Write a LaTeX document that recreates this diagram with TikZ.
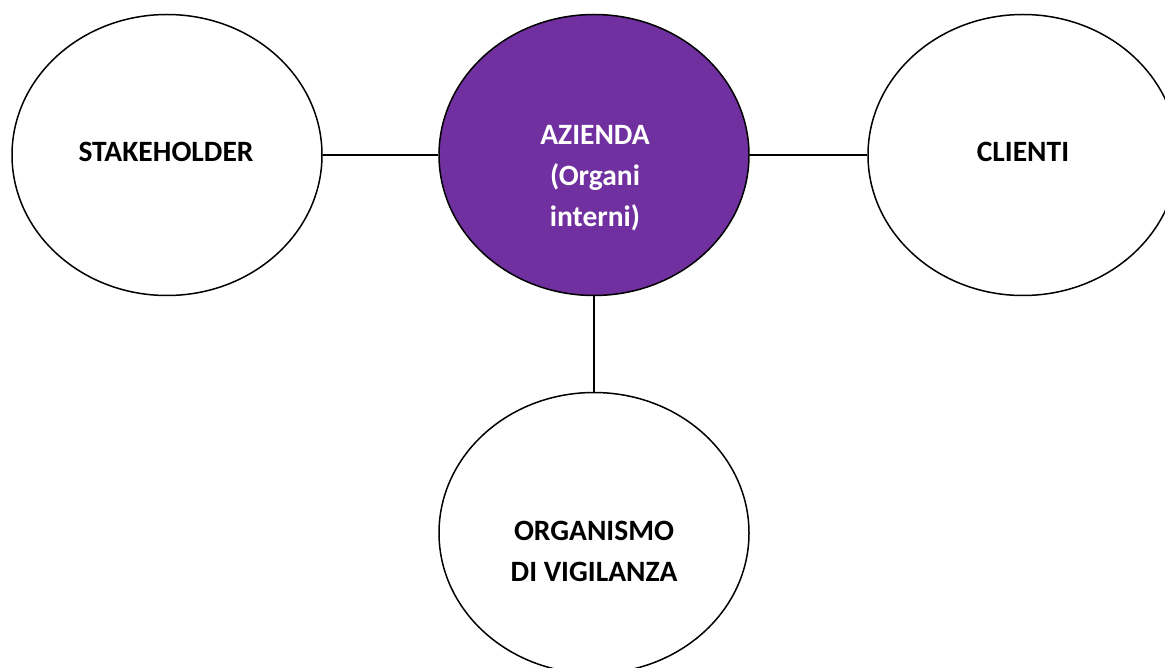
\documentclass[tikz,border=0pt]{standalone}
\usepackage{fontspec}
\setmainfont{Carlito}
\usetikzlibrary{shapes.geometric}
\definecolor{viola}{HTML}{7030A0}
\tikzset{
  ente/.style={draw=black,line width=1.5pt,ellipse,minimum width=310pt,minimum height=281pt,inner sep=0pt},
  testo/.style={font=\fontsize{29.5}{41}\selectfont\bfseries,align=center,inner sep=0pt},
  legame/.style={draw=black,line width=1.5pt}
}
\begin{document}
\begin{tikzpicture}[x=1pt,y=-1pt]
\useasboundingbox (0,0) rectangle(1165,668);
\node[ente,fill=white] (stake) at(167,155) {};
\node[ente,fill=viola] (azienda) at(594,155) {};
\node[ente,fill=white] (clienti) at(1023,155) {};
\node[ente,fill=white] (odv) at(594,533) {};
\node[testo,anchor=base] (tstake) at(166,162) {STAKEHOLDER};
\node[testo,anchor=base] (tclienti) at(1023,162) {CLIENTI};
\node[testo,text=white] (tazienda) at(595,178) {AZIENDA\\(Organi\\interni)};
\node[testo] (todv) at(594,551) {ORGANISMO\\DI VIGILANZA};
\draw[legame] (stake.east) -- (azienda.west);
\draw[legame] (azienda.east) -- (clienti.west);
\draw[legame] (azienda.south) -- (odv.north);
\end{tikzpicture}
\end{document}
